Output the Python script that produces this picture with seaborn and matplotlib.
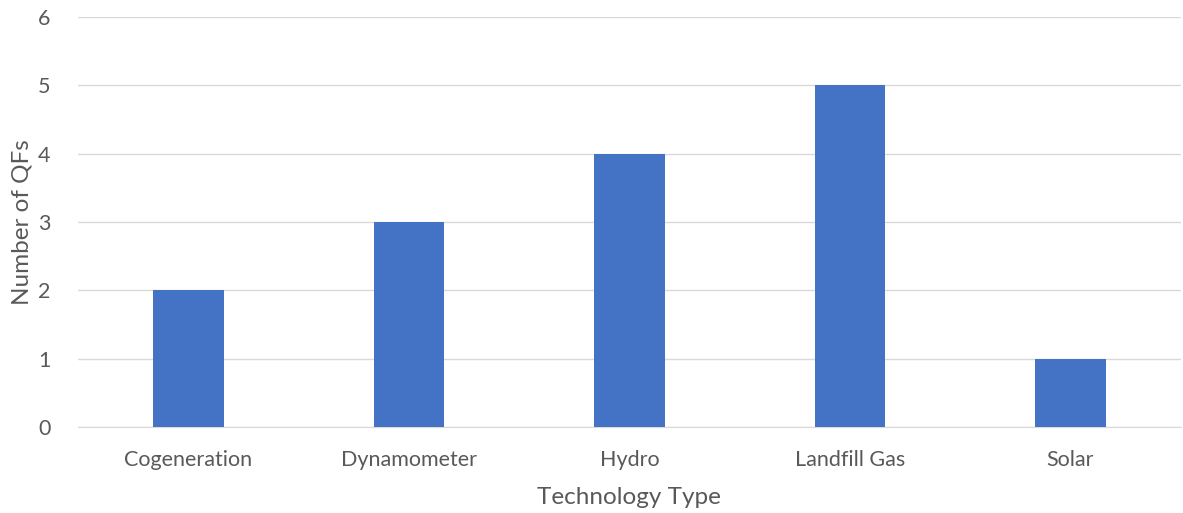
import pandas as pd
import matplotlib.pyplot as plt
import seaborn as sns

# chart data
technologies = ['Cogeneration', 'Dynamometer', 'Hydro', 'Landfill Gas', 'Solar']
qf_counts = [2, 3, 4, 5, 1]

df = pd.DataFrame({'Technology Type': technologies, 'Number of QFs': qf_counts})

sns.set_style('white')
plt.rcParams['font.family'] = ['Lato', 'DejaVu Sans']

fig = plt.figure(figsize=(11.83, 5.13), dpi=100)
ax = fig.add_axes([0.066, 0.168, 0.932, 0.799])

sns.barplot(data=df, x='Technology Type', y='Number of QFs', color='#4472C4',
            width=0.32, saturation=1, linewidth=0, ax=ax, zorder=3)

ax.set_ylim(0, 6)
ax.set_yticks(range(0, 7))
ax.yaxis.grid(True, color='#D9D9D9', linewidth=1, zorder=0)
ax.set_axisbelow(True)
for s in ['top', 'right', 'left']:
    ax.spines[s].set_visible(False)
ax.spines['bottom'].set_color('#D9D9D9')
ax.tick_params(axis='both', length=0, labelsize=15.5, colors='#595959')
ax.tick_params(axis='x', pad=17)
ax.tick_params(axis='y', pad=20)
ax.set_xlabel('Technology Type', fontsize=17.5, color='#595959', labelpad=12)
ax.set_ylabel('Number of QFs', fontsize=17.5, color='#595959', labelpad=4)

fig.savefig('out.png', dpi=100)
